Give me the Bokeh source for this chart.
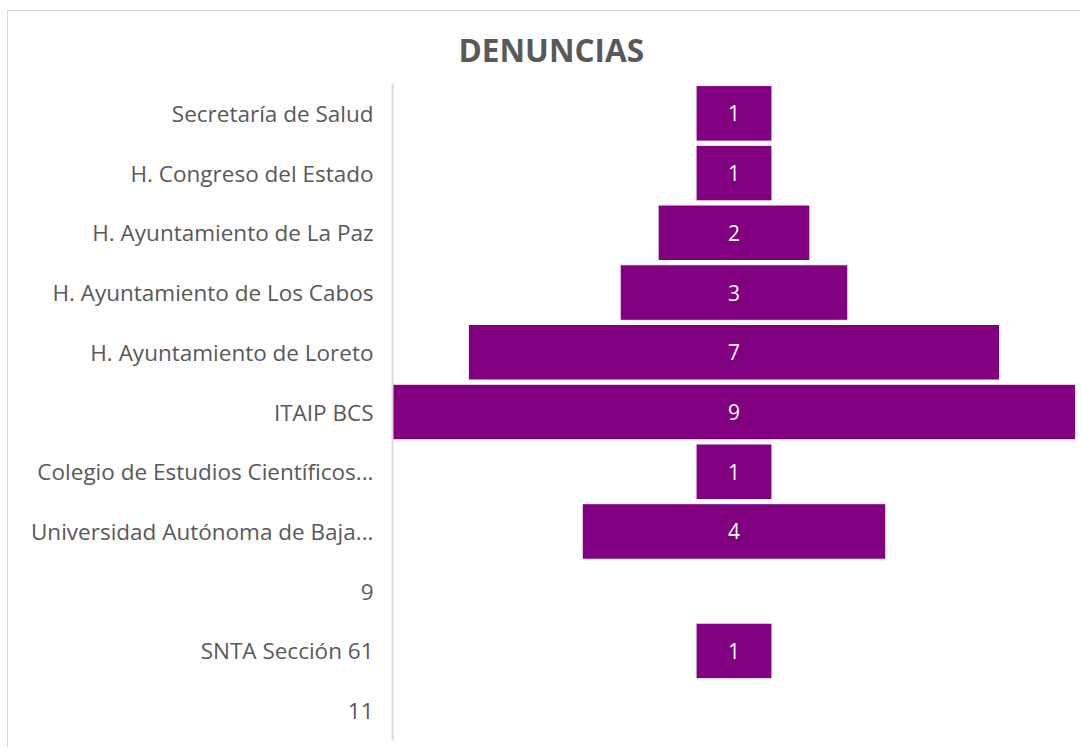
from bokeh.plotting import figure
from bokeh.models import ColumnDataSource, Title
from bokeh.core.properties import value
from bokeh.embed import file_html
from bokeh.resources import INLINE

categories = [
    "Secretaría de Salud",
    "H. Congreso del Estado",
    "H. Ayuntamiento de La Paz",
    "H. Ayuntamiento de Los Cabos",
    "H. Ayuntamiento de Loreto",
    "ITAIP BCS",
    "Colegio de Estudios Científicos...",
    "Universidad Autónoma de Baja...",
    "9",
    "SNTA Sección 61",
    "11",
]
denuncias = [1, 1, 2, 3, 7, 9, 1, 4, None, 1, None]
title_text = "DENUNCIAS"

cats = [c for c, v in zip(categories, denuncias) if v is not None]
vals = [v for v in denuncias if v is not None]
src = ColumnDataSource(dict(
    cat=cats,
    left=[-v / 2 for v in vals],
    right=[v / 2 for v in vals],
    xc=[0] * len(vals),
    lbl=[str(v) for v in vals],
))

p = figure(
    width=1073, height=737,
    y_range=list(reversed(categories)),
    x_range=(-4.5, 4.5),
    output_backend="svg", toolbar_location=None,
    min_border_left=384, min_border_right=6,
    min_border_top=72, min_border_bottom=8,
)
p.styles = {"margin-left": "7px", "margin-top": "10px",
            "border-top": "1px solid #d9d9d9", "border-left": "1px solid #d9d9d9"}
p.title = Title(text=title_text, align="left", offset=66,
                text_font="Open Sans", text_font_style="bold",
                text_font_size="31.5px", text_color="#595959", standoff=26)
p.outline_line_color = None
p.xgrid.visible = False
p.ygrid.visible = False
p.xaxis.visible = False

p.hbar(y="cat", left="left", right="right", height=0.93, source=src,
       fill_color="#800080", line_color="#ffffff", line_width=1)
p.text(x="xc", y="cat", text="lbl", source=src, text_align="center",
       text_baseline="middle", text_color="#ffffff", text_font_size="21px",
       text_font=value("Open Sans"))

ax = p.yaxis[0]
ax.axis_line_color = "#d9d9d9"
ax.axis_line_width = 2
ax.major_tick_line_color = None
ax.minor_tick_line_color = None
ax.major_tick_out = 0
ax.major_tick_in = 0
ax.major_label_standoff = 19
ax.major_label_text_font = "Open Sans"
ax.major_label_text_font_size = "22.5px"
ax.major_label_text_color = "#595959"

open("out.html", "w").write(file_html(p, INLINE))
